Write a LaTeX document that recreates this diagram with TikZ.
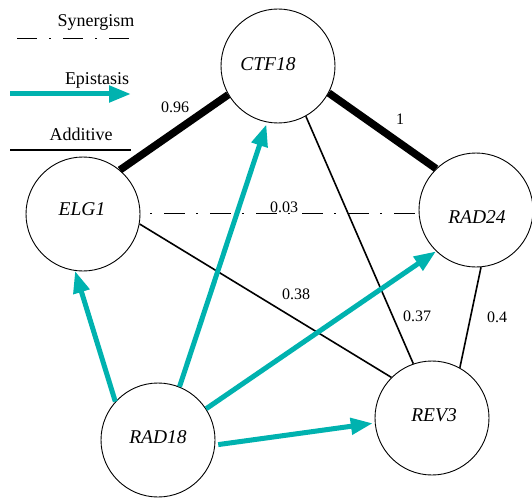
\documentclass[tikz,border=0pt]{standalone}
\usepackage{fontspec}
\setmainfont{Liberation Serif}
\usetikzlibrary{arrows.meta}
\definecolor{teal1}{RGB}{0,178,175}
\begin{document}
\begin{tikzpicture}[x=1pt,y=-1pt,
 gene/.style={circle,draw,line width=0.9pt,minimum size=114pt,inner sep=0pt},
 gname/.style={font=\fontsize{19.5}{22}\selectfont\itshape,inner sep=0pt},
 addl/.style={line width=1.6pt},
 strong/.style={line width=7.5pt},
 syn/.style={line width=1pt,dash pattern=on 20pt off 12pt on 2pt off 12pt},
 synm/.style={line width=1pt,dash pattern=on 2pt off 12pt on 21pt off 11pt},
 epi/.style={teal1,line width=5pt,-{Triangle[length=22pt,width=16pt]}},
 lbl/.style={font=\fontsize{16}{18}\selectfont},
 leg/.style={font=\fontsize{18}{20}\selectfont}]
\useasboundingbox (0,0) rectangle (532,500);
% legend
\node[leg] (tsyn) at (96,22) {Synergism};
\coordinate (s1) at (17,39); \coordinate (s2) at (131,39);
\draw[syn] (s1) -- (s2);
\node[leg] (tepi) at (97,80) {Epistasis};
\coordinate (e1) at (10,94); \coordinate (e2) at (131,94);
\draw[epi] (e1) -- (e2);
\node[leg] (tadd) at (81,134) {Additive};
\coordinate (a1) at (10,150); \coordinate (a2) at (131,150);
\draw[addl] (a1) -- (a2);
% nodes
\node[gene] (CTF) at (278,66) {};
\node[gene] (ELG) at (83,214) {};
\node[gene] (RAD24) at (476,210) {};
\node[gene] (REV) at (432,418) {};
\node[gene] (RAD18) at (158,440) {};
\node[gname] (tCTF) at (268,64) {CTF18};
\node[gname] (tELG) at (82,209) {ELG1};
\node[gname] (tRAD24) at (477,217) {RAD24};
\node[gname] (tREV) at (434,415) {REV3};
\node[gname] (tRAD18) at (158,437) {RAD18};
% edges
\draw[strong] (ELG.50) -- (CTF.210);
\draw[strong] (CTF.332) -- (RAD24.134);
\coordinate (d1) at ([xshift=10pt,yshift=1pt]ELG.east);
\coordinate (d2) at (d1 -| RAD24.west);
\draw[synm] (d1) -- ([xshift=-3pt]d2);
\draw[addl] (ELG.350) -- (REV.135);
\draw[addl] (CTF.299) -- (REV.109);
\draw[addl] (RAD24.275) -- (REV.61);
\draw[epi] (RAD18.138) -- (ELG.262);
\draw[epi,shorten >=2pt] (RAD18.68) -- (CTF.259);
\draw[epi] (RAD18.33) -- (RAD24.226);
\draw[epi,shorten <=3pt,shorten >=2pt] (RAD18.355) -- (REV.185);
% labels
\node[lbl] (l1) at (175,107) {0.96};
\node[lbl] (l2) at (400,119) {1};
\node[lbl] (l3) at (284,207) {0.03};
\node[lbl] (l4) at (296,294) {0.38};
\node[lbl] (l5) at (417,316) {0.37};
\node[lbl] (l6) at (497,317) {0.4};
\end{tikzpicture}
\end{document}
